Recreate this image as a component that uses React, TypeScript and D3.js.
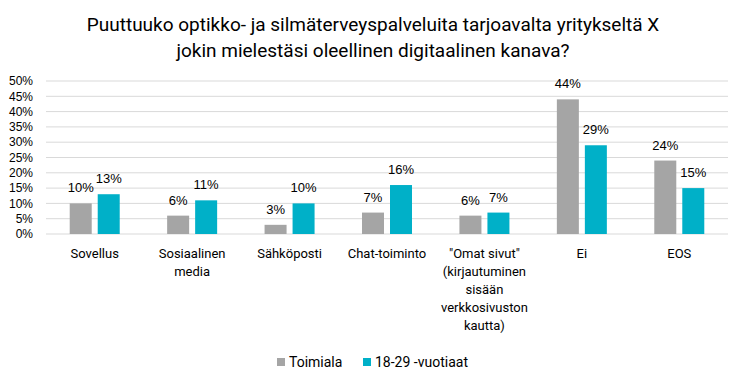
import { useEffect, useRef } from "react";
import * as d3 from "d3";

const categories = [
  "Sovellus",
  "Sosiaalinen\nmedia",
  "Sähköposti",
  "Chat-toiminto",
  "\"Omat sivut\"\n(kirjautuminen\nsisään\nverkkosivuston\nkautta)",
  "Ei",
  "EOS",
];
const toimiala = [10, 6, 3, 7, 6, 44, 24];
const nuoret = [13, 11, 10, 16, 7, 29, 15];
const seriesNames = ["Toimiala", "18-29 -vuotiaat"];
const yTicks = [0, 5, 10, 15, 20, 25, 30, 35, 40, 45, 50];
const titleLines = [
  "Puuttuuko optikko- ja silmäterveyspalveluita tarjoavalta yritykseltä X",
  "jokin mielestäsi oleellinen digitaalinen kanava?",
];

const W = 746;
const H = 385;
const colors = ["#A5A5A5", "#00B0C8"];
const labelFont = "Aptos, Roboto, 'Noto Sans', sans-serif";
const numFont = "'Liberation Sans', Arial, sans-serif";

const App = () => {
  const svgRef = useRef<SVGSVGElement>(null);

  useEffect(() => {
    const svg = d3.select(svgRef.current);
    svg.selectAll("*").remove();

    const margin = { top: 81, right: 18, bottom: 151, left: 46 };
    const width = W - margin.left - margin.right;
    const height = H - margin.top - margin.bottom;

    svg
      .append("g")
      .selectAll("text")
      .data(titleLines)
      .enter()
      .append("text")
      .attr("x", W / 2)
      .attr("y", (d, i) => 31 + i * 26)
      .attr("text-anchor", "middle")
      .style("font-family", labelFont)
      .style("font-size", "19px")
      .style("fill", "#000")
      .text((d) => d);

    const g = svg
      .append("g")
      .attr("transform", `translate(${margin.left},${margin.top})`);

    const x = d3.scaleBand().domain(categories).range([0, width]).padding(0);
    const y = d3.scaleLinear().domain([0, 50]).range([height, 0]);

    g.selectAll("line.grid")
      .data(yTicks)
      .enter()
      .append("line")
      .attr("class", "grid")
      .attr("x1", 0)
      .attr("x2", width)
      .attr("y1", (d) => y(d))
      .attr("y2", (d) => y(d))
      .attr("stroke", "#D9D9D9")
      .attr("stroke-width", 1);

    g.selectAll("text.ytick")
      .data(yTicks)
      .enter()
      .append("text")
      .attr("class", "ytick")
      .attr("x", -13)
      .attr("y", (d) => y(d))
      .attr("dy", "0.35em")
      .attr("text-anchor", "end")
      .style("font-family", numFont)
      .style("font-size", "12px")
      .style("fill", "#000")
      .text((d) => `${d}%`);

    const barW = 22;
    const gap = 6;
    const series = [toimiala, nuoret];

    series.forEach((vals, s) => {
      const offset = s === 0 ? -gap / 2 - barW : gap / 2;
      g.selectAll(`rect.s${s}`)
        .data(vals)
        .enter()
        .append("rect")
        .attr("class", `s${s}`)
        .attr("x", (d, i) => x(categories[i])! + x.bandwidth() / 2 + offset)
        .attr("y", (d) => y(d))
        .attr("width", barW)
        .attr("height", (d) => height - y(d))
        .attr("fill", colors[s]);

      g.selectAll(`text.l${s}`)
        .data(vals)
        .enter()
        .append("text")
        .attr("class", `l${s}`)
        .attr("x", (d, i) => x(categories[i])! + x.bandwidth() / 2 + offset + barW / 2)
        .attr("y", (d) => y(d) - 11)
        .attr("text-anchor", "middle")
        .style("font-family", numFont)
        .style("font-size", "13px")
        .style("fill", "#000")
        .text((d) => `${d}%`);
    });

    const cat = g
      .selectAll("text.cat")
      .data(categories)
      .enter()
      .append("text")
      .attr("class", "cat")
      .attr("text-anchor", "middle")
      .style("font-family", labelFont)
      .style("font-size", "13px")
      .style("fill", "#000");

    cat
      .selectAll("tspan")
      .data((d) => d.split("\n").map((t) => ({ t, c: d })))
      .enter()
      .append("tspan")
      .attr("x", (d) => x(d.c)! + x.bandwidth() / 2)
      .attr("y", (d, i) => height + 24 + i * 18)
      .text((d) => d.t);

    const legend = svg.append("g").attr("transform", `translate(0, 362)`);
    const legendX = [277, 363];
    seriesNames.forEach((name, i) => {
      legend
        .append("rect")
        .attr("x", legendX[i])
        .attr("y", -4)
        .attr("width", 8)
        .attr("height", 8)
        .attr("fill", colors[i]);
      legend
        .append("text")
        .attr("x", legendX[i] + 12)
        .attr("y", 0)
        .attr("dy", "0.35em")
        .style("font-family", labelFont)
        .style("font-size", "14px")
        .style("fill", "#000")
        .text(name);
    });
  }, []);

  return (
    <svg
      ref={svgRef}
      width={W}
      height={H}
      style={{ position: "absolute", left: 0, top: 0, background: "#fff" }}
    />
  );
};

export default App;
